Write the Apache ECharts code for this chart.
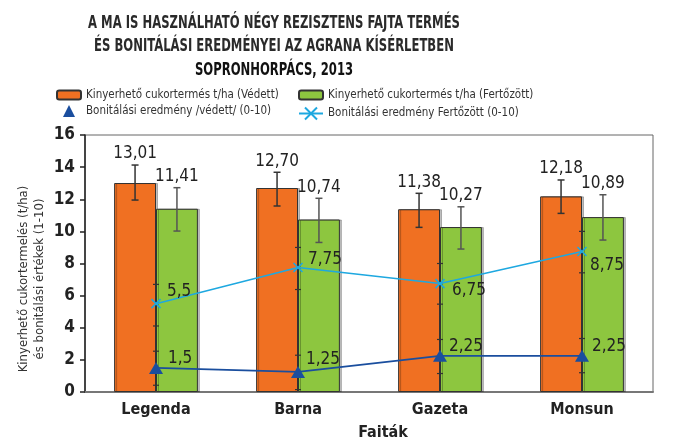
<!DOCTYPE html>
<html>
<head>
<meta charset="utf-8">
<script src="https://cdn.jsdelivr.net/npm/echarts@6/dist/echarts.min.js"></script>
<style>html,body{margin:0;padding:0;background:#fff}#c{width:680px;height:441px}</style>
</head>
<body>
<div id="c"></div>
<script>
// ---- data ----
var categories = ['Legenda', 'Barna', 'Gazeta', 'Monsun'];
var yieldProtected = [13.01, 12.70, 11.38, 12.18];
var yieldInfected = [11.41, 10.74, 10.27, 10.89];
var yieldProtectedLow = [11.95, 11.58, 10.25, 11.12];
var yieldProtectedHigh = [14.13, 13.68, 12.37, 13.2];
var yieldInfectedLow = [10.02, 9.31, 8.9, 9.46];
var yieldInfectedHigh = [12.72, 12.06, 11.53, 12.28];
var scoreProtected = [1.5, 1.25, 2.25, 2.25];
var scoreInfected = [5.5, 7.75, 6.75, 8.75];
var scoreProtectedLow = [0.42, 0.15, 1.15, 1.2];
var scoreProtectedHigh = [2.54, 2.29, 3.27, 3.33];
var scoreInfectedLow = [4.11, 6.38, 5.47, 7.42];
var scoreInfectedHigh = [6.70, 9.0, 8.0, 10.0];
var yTicks = [0, 2, 4, 6, 8, 10, 12, 14, 16];

var titleLines = [
  'A MA IS HASZNÁLHATÓ NÉGY REZISZTENS FAJTA TERMÉS',
  'ÉS BONITÁLÁSI EREDMÉNYEI AZ AGRANA KÍSÉRLETBEN',
  'SOPRONHORPÁCS, 2013'
];
var names = [
  'Kinyerhető cukortermés t/ha (Védett)',
  'Kinyerhető cukortermés t/ha (Fertőzött)',
  'Bonitálási eredmény /védett/ (0-10)',
  'Bonitálási eredmény Fertőzött (0-10)'
];
var yName = 'Kinyerhető cukortermelés (t/ha)\nés bonitálási értékek (1-10)';
var xName = 'Faiták';

// ---- styles ----
var FONT = '"DejaVu Sans Condensed", Roboto, sans-serif';
var cOrange = '#F07022', cGreen = '#8DC63F', cBlue = '#1A4E9E', cCyan = '#1EA8E0';
var catGap = 0.41;
var blueLabelOffsets = [[1, -9], [-3, -12], [-2, -9], [-1, -9]];
var cyanLabelOffsets = [[0, -12], [-1, -8], [1, 7], [-3, 14]];

function comma(v, d) { return (d != null ? v.toFixed(d) : String(v)).replace('.', ','); }

function errData(low, high, val) {
  return categories.map(function (c, i) { return [i, low[i], high[i], val[i]]; });
}

function barErrRender(side, color, capHalf) {
  return function (params, api) {
    var i = api.value(0);
    var band = api.size([1, 0])[0];
    var bw = band * (1 - catGap) / 2;
    var top = api.coord([i, api.value(2)]);
    var bot = api.coord([i, api.value(1)]);
    var x = top[0] + side * bw / 2;
    var st = { stroke: color, lineWidth: 1.5 };
    return {
      type: 'group',
      children: [
        { type: 'line', shape: { x1: x, y1: top[1], x2: x, y2: bot[1] }, style: st },
        { type: 'line', shape: { x1: x - capHalf, y1: top[1], x2: x + capHalf, y2: top[1] }, style: st },
        { type: 'line', shape: { x1: x - capHalf, y1: bot[1], x2: x + capHalf, y2: bot[1] }, style: st },
        { type: 'text', x: x, y: top[1] - 11, style: { text: comma(api.value(3), 2), align: 'center', verticalAlign: 'middle', fill: '#222', font: '500 17px ' + FONT } }
      ]
    };
  };
}

function lineErrRender(color) {
  return function (params, api) {
    var i = api.value(0);
    var top = api.coord([i, api.value(2)]);
    var bot = api.coord([i, api.value(1)]);
    var x = top[0];
    var st = { stroke: color, lineWidth: 1.2 };
    return {
      type: 'group',
      children: [
        { type: 'line', shape: { x1: x, y1: top[1], x2: x, y2: bot[1] }, style: st },
        { type: 'line', shape: { x1: x - 3, y1: top[1], x2: x + 3, y2: top[1] }, style: st },
        { type: 'line', shape: { x1: x - 3, y1: bot[1], x2: x + 3, y2: bot[1] }, style: st }
      ]
    };
  };
}

function lineData(vals, offsets) {
  return vals.map(function (v, i) { return { value: v, label: { offset: offsets[i] } }; });
}

var legendText = { fontFamily: FONT, fontSize: 11.5, color: '#333' };

var titleGraphics = titleLines.map(function (t, i) {
  return {
    type: 'text', x: 274, y: 23.5 + i * 23.5, scaleX: 0.76,
    style: { text: t, align: 'center', verticalAlign: 'middle',
      font: (i === 2 ? '900 ' : 'bold ') + '17px ' + FONT, fill: i === 2 ? '#111' : '#2a2a2a' }
  };
});

var option = {
  animation: false,
  legend: [
    { left: 56, top: 89, padding: 0, itemWidth: 24, itemHeight: 9, itemGap: 5, textStyle: legendText, data: [names[0]], selectedMode: false },
    { left: 298, top: 89, padding: 0, itemWidth: 24, itemHeight: 9, itemGap: 5, textStyle: legendText, data: [names[1]], selectedMode: false },
    { left: 56, top: 105, padding: 0, itemWidth: 24, itemHeight: 15, itemGap: 5, textStyle: legendText, data: [{ name: names[2], lineStyle: { opacity: 0 } }], selectedMode: false },
    { left: 298, top: 105, padding: 0, itemWidth: 24, itemHeight: 15, itemGap: 5, textStyle: legendText, data: [names[3]], selectedMode: false }
  ],
  grid: { left: 85, right: 27, top: 135, bottom: 49, show: true, borderColor: '#666', borderWidth: 1 },
  xAxis: {
    type: 'category', data: categories,
    axisLine: { lineStyle: { color: '#777', width: 2 } },
    axisTick: { show: false },
    axisLabel: { fontFamily: FONT, fontSize: 16, fontWeight: 'bold', color: '#222', margin: 10 }
  },
  yAxis: {
    type: 'value', min: yTicks[0], max: yTicks[yTicks.length - 1], interval: yTicks[1] - yTicks[0],
    axisLine: { show: true, lineStyle: { color: '#222', width: 1.5 } },
    axisTick: { show: true, length: 5, lineStyle: { color: '#222', width: 1.5 } },
    splitLine: { show: false },
    axisLabel: { fontFamily: FONT, fontSize: 17, fontWeight: 'bold', color: '#222', margin: 10 }
  },
  graphic: titleGraphics.concat([
    { type: 'text', x: 32, y: 279, rotation: Math.PI / 2,
      style: { text: yName, align: 'center', verticalAlign: 'middle', lineHeight: 16, font: '13px ' + FONT, fill: '#333' } },
    { type: 'text', x: 383, y: 433,
      style: { text: xName, align: 'center', verticalAlign: 'middle', font: 'bold 16px ' + FONT, fill: '#222' } }
  ]),
  series: [
    { name: names[0], type: 'bar', data: yieldProtected, barGap: 0, barCategoryGap: (catGap * 100) + '%',
      itemStyle: { color: cOrange, borderColor: '#333', borderWidth: 1, shadowColor: 'rgba(0,0,0,0.25)', shadowOffsetX: 2, shadowBlur: 0 } },
    { name: names[1], type: 'bar', data: yieldInfected, barGap: 0, barCategoryGap: (catGap * 100) + '%',
      itemStyle: { color: cGreen, borderColor: '#333', borderWidth: 1, shadowColor: 'rgba(0,0,0,0.25)', shadowOffsetX: 2, shadowBlur: 0 } },
    { type: 'custom', renderItem: barErrRender(-1, '#333', 3.5), data: errData(yieldProtectedLow, yieldProtectedHigh, yieldProtected), encode: { x: 0, y: [1, 2] }, z: 5 },
    { type: 'custom', renderItem: barErrRender(1, '#555', 3.5), data: errData(yieldInfectedLow, yieldInfectedHigh, yieldInfected), encode: { x: 0, y: [1, 2] }, z: 5 },
    { type: 'custom', renderItem: lineErrRender('#333'), data: errData(scoreProtectedLow, scoreProtectedHigh, scoreProtected), encode: { x: 0, y: [1, 2] }, z: 6 },
    { type: 'custom', renderItem: lineErrRender('#333'), data: errData(scoreInfectedLow, scoreInfectedHigh, scoreInfected), encode: { x: 0, y: [1, 2] }, z: 6 },
    { name: names[2], type: 'line', data: lineData(scoreProtected, blueLabelOffsets), z: 8,
      symbol: 'triangle', symbolSize: [14, 12],
      lineStyle: { color: cBlue, width: 1.8 }, itemStyle: { color: cBlue },
      label: { show: true, position: 'right', distance: 4, fontFamily: FONT, fontSize: 17, fontWeight: 500, color: '#222', formatter: function (p) { return comma(p.value); } } },
    { name: names[3], type: 'line', data: lineData(scoreInfected, cyanLabelOffsets), z: 8,
      symbol: 'path://M0,0L10,10M10,0L0,10', symbolSize: 9,
      lineStyle: { color: cCyan, width: 1.6 }, itemStyle: { color: 'none', borderColor: cCyan, borderWidth: 1.6 },
      label: { show: true, position: 'right', distance: 4, fontFamily: FONT, fontSize: 17, fontWeight: 500, color: '#222', formatter: function (p) { return comma(p.value); } } }
  ]
};

var chart = echarts.init(document.getElementById('c'), null, { renderer: 'canvas' });
chart.setOption(option);
</script>
</body>
</html>
